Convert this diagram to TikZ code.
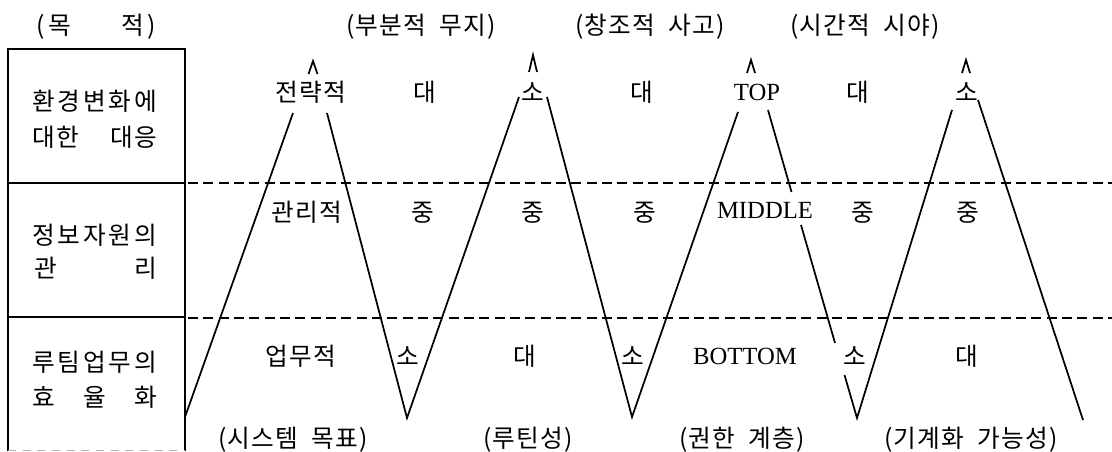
\documentclass[tikz,border=0pt]{standalone}
\usepackage{fontspec}
\setmainfont{Liberation Serif}
\newfontfamily\kr[LetterSpace=5]{Noto Sans CJK KR}
\newfontfamily\krn{Noto Sans CJK KR}
\newcommand\ws{\hspace{10pt}}
\begin{document}
\begin{tikzpicture}[x=0.75pt,y=-0.75pt,
  lbl/.style={inner sep=0pt,anchor=base,font={\kr\fontsize{18.5}{20}\selectfont}},
  boxtxt/.style={inner sep=0pt,anchor=base west,font={\krn\fontsize{18.5}{20}\selectfont}},
  en/.style={inner sep=0pt,anchor=base,font={\fontsize{18.5}{20}\selectfont}},
  zig/.style={line width=1.3pt},
  caret/.style={line width=1.3pt},
  frame/.style={line width=1.4pt},
  sep/.style={line width=1.2pt,dash pattern=on 7.5pt off 4pt}]
\useasboundingbox (0,0) rectangle (1112,452);

% left box
\draw[frame] (8,451) -- (8,49) -- (185,49) -- (185,451);
\draw[frame] (8,183) -- (185,183);
\draw[frame] (8,317) -- (185,317);
\draw[line width=0.5pt,gray!60,dash pattern=on 6pt off 5pt] (8,450) -- (185,450);

% dashed level separators
\draw[sep] (188,183) -- (1112,183);
\draw[sep] (188,318) -- (1112,318);

% header
\node[boxtxt] (hdr) at (36,35) {\hbox to 90pt{(\,목\hfill 적\,)}};
\node[lbl] (h1) at (421,35) {(부분적\ws 무지)};
\node[lbl] (h2) at (650,35) {(창조적\ws 사고)};
\node[lbl] (h3) at (865,35) {(시간적\ws 시야)};

% box texts
\node[boxtxt] (b1a) at (32,111) {\hbox to 93.75pt{환\hfill 경\hfill 변\hfill 화\hfill 에}};
\node[boxtxt] (b1b) at (32,147) {\hbox to 93.75pt{대\hspace{1pt}한\hfill 대\hspace{1pt}응}};
\node[boxtxt] (b2a) at (32,244) {\hbox to 93.75pt{정\hfill 보\hfill 자\hfill 원\hfill 의}};
\node[boxtxt] (b2b) at (32,277) {\hbox to 93.75pt{\hspace{2pt}관\hfill 리}};
\node[boxtxt] (b3a) at (32,371) {\hbox to 93.75pt{루\hfill 팀\hfill 업\hfill 무\hfill 의}};
\node[boxtxt] (b3b) at (32,406) {\hbox to 93.75pt{효\hfill 율\hfill 화}};

% row 1
\node[lbl] (r1a) at (311,102) {전략적};
\node[lbl] (r1b) at (425,102) {대};
\node[lbl] (r1c) at (533,102) {소};
\node[lbl] (r1d) at (642,102) {대};
\node[en]  (r1e) at (757,101) {TOP};
\node[lbl] (r1f) at (858,102) {대};
\node[lbl] (r1g) at (967,102) {소};

% row 2
\node[lbl] (r2a) at (307,221) {관리적};
\node[lbl] (r2b) at (423,221) {중};
\node[lbl] (r2c) at (533,221) {중};
\node[lbl] (r2d) at (645,221) {중};
\node[en]  (r2e) at (765,219) {MIDDLE};
\node[lbl] (r2f) at (863,221) {중};
\node[lbl] (r2g) at (968,221) {중};

% row 3
\node[lbl] (r3a) at (301,365) {업무적};
\node[lbl] (r3b) at (408,365) {소};
\node[lbl] (r3c) at (525,365) {대};
\node[lbl] (r3d) at (633,365) {소};
\node[en]  (r3e) at (745,364) {BOTTOM};
\node[lbl] (r3f) at (855,365) {소};
\node[lbl] (r3g) at (967,365) {대};

% bottom captions
\node[lbl] (f1) at (293,447) {(시스템\ws 목표)};
\node[lbl] (f2) at (528,447) {(루틴성)};
\node[lbl] (f3) at (742,447) {(권한\ws 계층)};
\node[lbl] (f4) at (971,447) {(기계화\ws 가능성)};

% zigzag coordinates
\coordinate (s0)  at (185,417);
\coordinate (a1l) at (293,113);
\coordinate (a1r) at (327,113);
\coordinate (t1)  at (407,418);
\coordinate (a2l) at (519,97);
\coordinate (a2r) at (547,97);
\coordinate (t2)  at (632,417);
\coordinate (a3l) at (738,112);
\coordinate (a3r) at (768,110);
\coordinate (m3a) at (791.5,192);
\coordinate (m3b) at (801,225);
\coordinate (m3c) at (835,343);
\coordinate (m3d) at (844.5,375);
\coordinate (t3)  at (857,418);
\coordinate (a4l) at (952,110);
\coordinate (a4r) at (978,100);
\coordinate (e4)  at (1083,420);

\draw[zig] (s0) -- (a1l);
\draw[zig] (a1r) -- (t1) -- (a2l);
\draw[zig] (a2r) -- (t2) -- (a3l);
\draw[zig] (a3r) -- (m3a);
\draw[zig] (m3b) -- (m3c);
\draw[zig] (m3d) -- (t3) -- (a4l);
\draw[zig] (a4r) -- (e4);

% apex carets
\coordinate (c1) at (313,61);
\coordinate (c2) at (533,55);
\coordinate (c3) at (751,60);
\coordinate (c4) at (966,60);
\draw[caret] (c1) ++(-4.5,13) -- (c1) -- ++(4.5,13);
\draw[caret] (c2) ++(-4,17) -- (c2) -- ++(4,17);
\draw[caret] (c3) ++(-4,13) -- (c3) -- ++(4,13);
\draw[caret] (c4) ++(-4,13) -- (c4) -- ++(4,13);
\end{tikzpicture}
\end{document}
